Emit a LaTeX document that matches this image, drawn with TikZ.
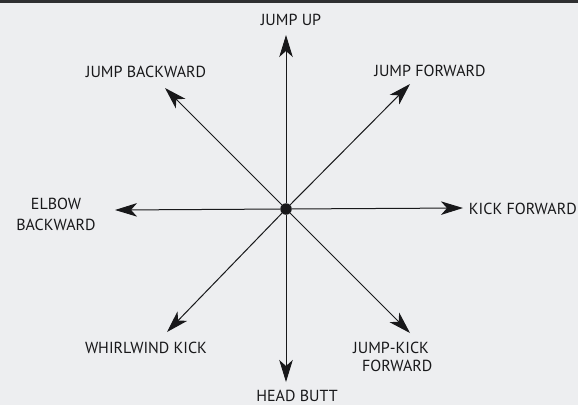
\documentclass[tikz,border=0pt]{standalone}
\usepackage{fontspec}
\setmainfont{PT Sans}
\usetikzlibrary{arrows.meta}
\definecolor{paper}{RGB}{237,238,240}
\definecolor{ink}{RGB}{24,24,26}
\begin{document}
\begin{tikzpicture}[x=1pt,y=-1pt,
  lbl/.style={font=\fontsize{16}{21}\selectfont, text=ink, inner sep=0pt, align=center},
  dirarrow/.style={draw=ink, line width=1pt, -{Stealth[length=22pt,width=13.5pt,inset=6pt]}},
  hub/.style={circle, fill=ink, minimum size=11.5pt, inner sep=0pt}]
\fill[paper] (0,0) rectangle (578,405);
\useasboundingbox (0,0) rectangle (578,405);
\fill[ink!90] (0,0) rectangle (578,2.8);
% hub
\node[hub] (c) at (286,209) {};
% arrow tips
\coordinate (tu) at (286,35);
\coordinate (td) at (286,382);
\coordinate (tl) at (115,210);
\coordinate (tr) at (463,208);
\coordinate (tul) at (165,88);
\coordinate (tur) at (410,84);
\coordinate (tdl) at (167,332);
\coordinate (tdr) at (410,333);
\foreach \t in {tu,td,tl,tr,tul,tur,tdl,tdr} \draw[dirarrow] (c) -- (\t);
% labels
\node[lbl] (up) at (291,20) {JUMP UP};
\node[lbl] (jb) at (146,72) {JUMP BACKWARD};
\node[lbl] (jf) at (430,71) {JUMP FORWARD};
\node[lbl] (eb) at (56,214) {ELBOW\\BACKWARD};
\node[lbl, anchor=east] (kf) at (577,209) {KICK FORWARD};
\node[lbl] (wk) at (146,348) {WHIRLWIND KICK};
\node[lbl, align=left, anchor=west, font=\fontsize{16}{17.5}\selectfont] (jk) at (353,357) {JUMP-KICK\\\hspace*{9pt}FORWARD};
\node[lbl] (hb) at (297,395.5) {HEAD BUTT};
\end{tikzpicture}
\end{document}
